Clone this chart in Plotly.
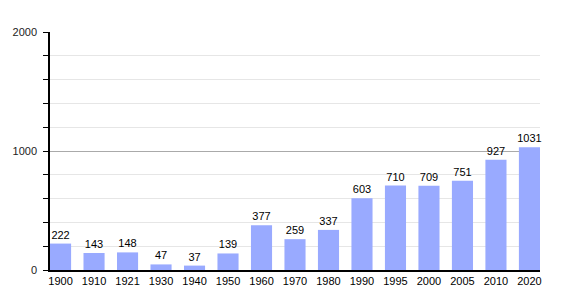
import plotly.graph_objects as go

years = ["1900", "1910", "1921", "1930", "1940", "1950", "1960", "1970", "1980",
         "1990", "1995", "2000", "2005", "2010", "2020"]
population = [222, 143, 148, 47, 37, 139, 377, 259, 337, 603, 710, 709, 751, 927, 1031]
y_ticks = [0, 1000, 2000]

FONT = "Liberation Sans, Arial, sans-serif"

fig = go.Figure()
fig.add_trace(go.Bar(
    x=years, y=population,
    text=[str(v) for v in population], textposition="outside",
    constraintext="none",
    textfont=dict(size=11, color="#000000", family=FONT),
    marker=dict(color="#99AAFF", line=dict(width=0)),
    width=0.63, cliponaxis=False,
))
fig.update_layout(
    width=570, height=300,
    margin=dict(l=50, r=30, t=32, b=30),
    paper_bgcolor="white", plot_bgcolor="white",
    showlegend=False,
    font=dict(family=FONT, size=11, color="#000000"),
)
fig.update_xaxes(
    type="category", range=[-0.315, len(years) - 1 + 0.315],
    showline=True, linecolor="#000000", linewidth=1.5,
    ticks="", showgrid=False, tickfont=dict(size=11, color="#000000", family=FONT),
)
fig.update_yaxes(
    range=[0, 2000], tickvals=y_ticks, ticktext=[str(v) for v in y_ticks],
    showline=True, linecolor="#000000", linewidth=1.5,
    ticks="outside", ticklen=5, tickcolor="#000000", ticklabelstandoff=4,
    showgrid=True, gridcolor="#AAAAAA", gridwidth=1,
    zeroline=False, tickfont=dict(size=11, color="#222222", family=FONT),
    minor=dict(dtick=200, tick0=0, ticks="outside", ticklen=5, tickcolor="#000000",
               showgrid=True, gridcolor="#E6E6E6", gridwidth=1),
)
fig.write_html("out.html")
